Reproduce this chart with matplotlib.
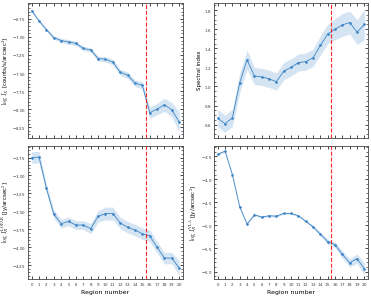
import numpy as np
import matplotlib
matplotlib.use('Agg')
import matplotlib.pyplot as plt

plt.rcParams['mathtext.fontset'] = 'cm'
plt.rcParams['axes.formatter.use_mathtext'] = True
plt.rcParams['font.family'] = 'DejaVu Sans'
plt.rcParams['font.size'] = 4

# номера регионов
regions = np.arange(21)

# log I_X и его ошибка
log_ix = [-6.635, -6.78, -6.90, -7.01, -7.05, -7.07, -7.09, -7.16, -7.18, -7.30, -7.31,
          -7.35, -7.49, -7.53, -7.64, -7.67, -8.05, -8.00, -7.94, -8.01, -8.18]
log_ix_err = [0.02, 0.02, 0.02, 0.025, 0.03, 0.03, 0.03, 0.03, 0.03, 0.035, 0.035,
              0.04, 0.04, 0.045, 0.045, 0.05, 0.08, 0.08, 0.09, 0.10, 0.14]

# спектральный индекс
spec_idx = [0.667, 0.61, 0.67, 1.04, 1.28, 1.11, 1.10, 1.08, 1.05, 1.16, 1.20,
            1.25, 1.26, 1.30, 1.43, 1.55, 1.60, 1.645, 1.67, 1.57, 1.65]
spec_err = [0.09, 0.09, 0.09, 0.10, 0.10, 0.09, 0.09, 0.09, 0.09, 0.09, 0.09,
            0.09, 0.09, 0.09, 0.10, 0.10, 0.11, 0.12, 0.12, 0.13, 0.16]

# log I_R LOFAR
log_lofar = [-2.75, -2.745, -3.18, -3.54, -3.67, -3.64, -3.69, -3.69, -3.74, -3.57, -3.53,
             -3.53, -3.66, -3.72, -3.76, -3.81, -3.84, -4.00, -4.15, -4.15, -4.29]
lofar_err = [0.08, 0.08, 0.06, 0.06, 0.06, 0.06, 0.06, 0.06, 0.07, 0.08, 0.09,
             0.09, 0.08, 0.08, 0.08, 0.08, 0.08, 0.08, 0.08, 0.08, 0.10]

# log I_R VLA
log_vla = [-3.46, -3.39, -3.90, -4.60, -4.97, -4.77, -4.82, -4.79, -4.80, -4.74, -4.74,
           -4.79, -4.91, -5.03, -5.19, -5.35, -5.42, -5.63, -5.81, -5.72, -5.94]
vla_err = [0.02, 0.02, 0.02, 0.02, 0.02, 0.02, 0.02, 0.02, 0.02, 0.02, 0.02,
           0.02, 0.02, 0.03, 0.04, 0.05, 0.06, 0.08, 0.09, 0.10, 0.13]

split = 15.5
color = '#3c84c6'

fig = plt.figure(figsize=(3.71, 2.98), dpi=100)
axes = [
    fig.add_axes([0.0755, 0.537, 0.4175, 0.453]),
    fig.add_axes([0.577, 0.537, 0.415, 0.453]),
    fig.add_axes([0.0755, 0.064, 0.4175, 0.446]),
    fig.add_axes([0.577, 0.064, 0.415, 0.446]),
]

panels = [
    (log_ix, log_ix_err, r'$\log\ I_X$ [counts/s/arcsec$^2$]', (-8.40, -6.53),
     [-6.75, -7.0, -7.25, -7.5, -7.75, -8.0, -8.25]),
    (spec_idx, spec_err, 'Spectral index', (0.46, 1.875),
     [0.6, 0.8, 1.0, 1.2, 1.4, 1.6, 1.8]),
    (log_lofar, lofar_err, r'$\log\ I_R^{\rm LOFAR}$ [Jy/arcsec$^2$]', (-4.44, -2.59),
     [-2.75, -3.0, -3.25, -3.5, -3.75, -4.0, -4.25]),
    (log_vla, vla_err, r'$\log\ I_R^{\rm VLA}$ [Jy/arcsec$^2$]', (-6.16, -3.28),
     [-3.5, -4.0, -4.5, -5.0, -5.5, -6.0]),
]

for i, (ax, (vals, errs, label, ylim, yticks)) in enumerate(zip(axes, panels)):
    vals = np.array(vals)
    errs = np.array(errs)
    ax.fill_between(regions, vals - errs, vals + errs, color=color, alpha=0.22, lw=0)
    ax.plot(regions, vals, color=color, lw=0.6, marker='o', ms=0.9)
    ax.axvline(split, color='red', ls='--', lw=0.8, alpha=0.85)
    ax.set_xlim(-0.5, 20.5)
    ax.set_ylim(*ylim)
    ax.set_yticks(yticks)
    ax.set_ylabel(label, labelpad=1.0, fontsize=4.0)
    ax.set_xticks(regions)
    ax.minorticks_on()
    ax.xaxis.set_minor_locator(matplotlib.ticker.NullLocator())
    ax.tick_params(which='both', direction='in', top=True, right=True, pad=1.5,
                   labelsize=2.9, labelcolor='#333333')
    ax.tick_params(which='major', length=2.5, width=0.5)
    ax.tick_params(which='minor', length=1.3, width=0.4)
    for s in ax.spines.values():
        s.set_linewidth(0.6)
        s.set_color('#444444')
    if i < 2:
        ax.set_xticklabels([])
    else:
        ax.set_xlabel('Region number', labelpad=1.5, fontsize=4.5)

fig.savefig('out.png', dpi=100)
